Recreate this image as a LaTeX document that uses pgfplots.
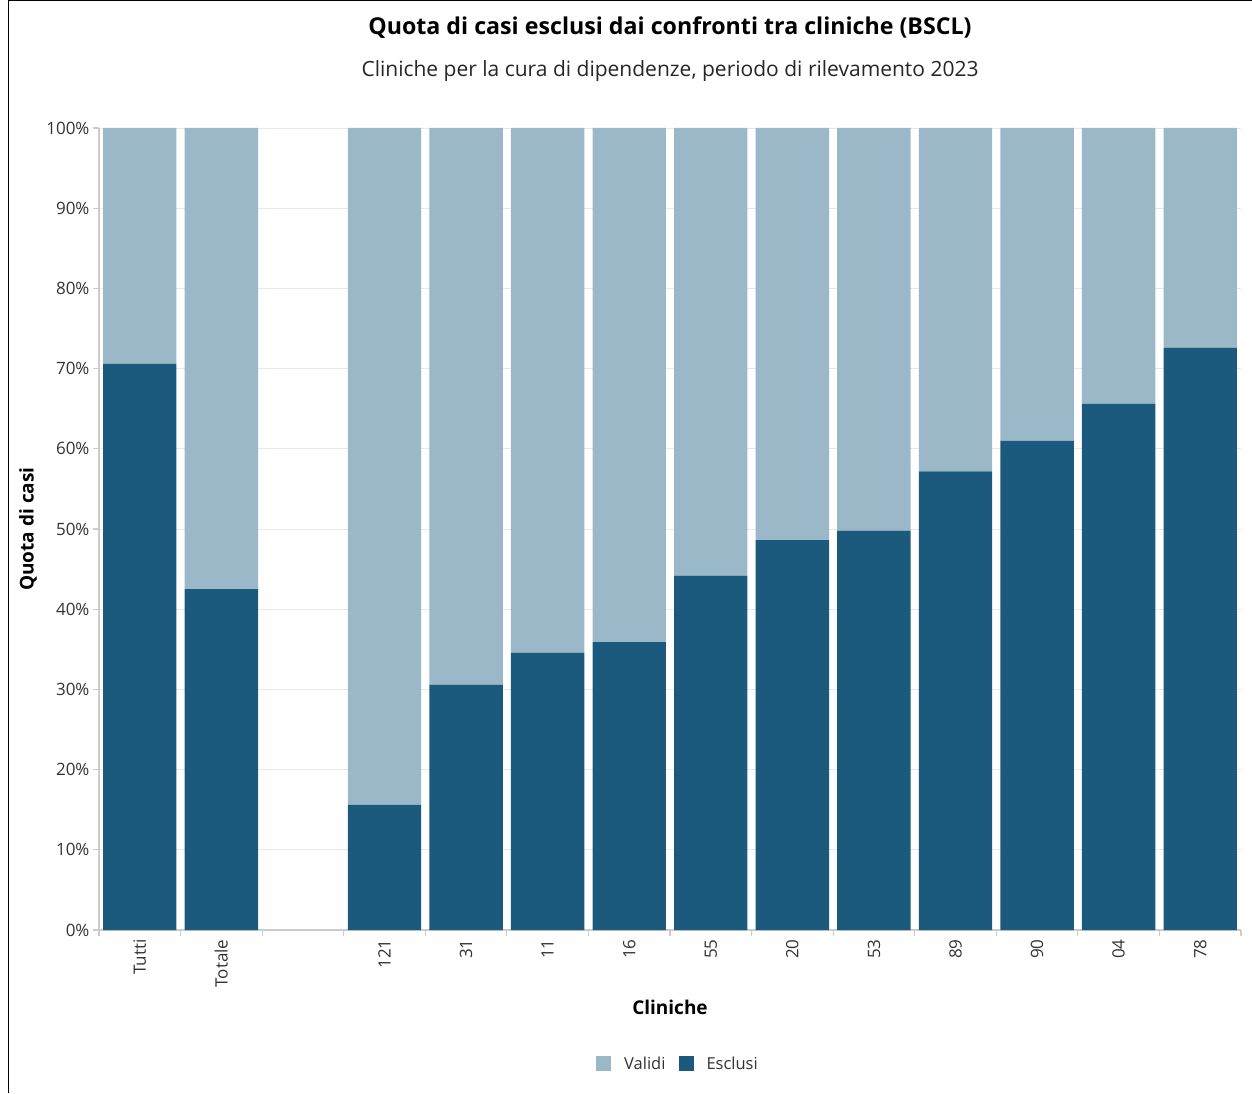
\documentclass[border=0pt]{standalone}
\usepackage{pgfplots}
\pgfplotsset{compat=1.18}
\usepackage{fontspec}
\setmainfont{Open Sans}
\definecolor{validi}{RGB}{155,184,201}
\definecolor{esclusi}{RGB}{27,90,125}
\definecolor{axgray}{RGB}{204,204,204}
\definecolor{gridgray}{RGB}{232,232,232}
\definecolor{txt}{RGB}{51,51,51}
\begin{document}
\begin{tikzpicture}[x=1pt,y=1pt]
\useasboundingbox (0,0) rectangle (1252,1093);
\draw[black, line width=1.3pt] (8.5,0) -- (8.5,1092.3) -- (1252,1092.3);
\node[font=\fontsize{23.2}{27}\selectfont\bfseries, text=black] at (670,1065) {Quota di casi esclusi dai confronti tra cliniche (BSCL)};
\node[font=\fontsize{21}{25}\selectfont, text=black!85] at (670,1022) {Cliniche per la cura di dipendenze, periodo di rilevamento 2023};
\begin{axis}[
  at={(99pt,163pt)}, anchor=south west,
  width=1142pt, height=802pt, scale only axis,
  xmin=-0.5, xmax=13.5, ymin=0, ymax=100,
  ybar stacked, bar width=0.9,
  axis x line*=bottom, axis y line*=left,
  axis line style={axgray, line width=1.3pt},
  ymajorgrids, grid style={gridgray, line width=0.8pt},
  ytick={0,10,...,100},
  yticklabel={\pgfmathprintnumber[assume math mode=true]{\tick}\%},
  xtick={-0.5,0.5,...,13.5},
  x tick label as interval,
  xticklabels={Tutti,Totale,{},121,31,11,16,55,20,53,89,90,{04},78},
  x tick label style={rotate=90, anchor=east, yshift=0pt},
  tick label style={font=\fontsize{17}{19}\selectfont, text=txt},
  tick align=outside, major tick length=6pt,
  tick style={axgray, line width=1.2pt},
  xlabel={Cliniche}, ylabel={Quota di casi},
  label style={font=\fontsize{19}{23}\selectfont\bfseries, text=black},
  xlabel style={at={(axis description cs:0.5,-0.096)}, anchor=center},
  ylabel style={at={(axis description cs:-0.0622,0.5)}, anchor=center},
  legend columns=2,
  legend style={draw=none, at={(axis description cs:0.507,-0.167)}, anchor=center,
    font=\fontsize{16.5}{18}\selectfont, text=txt,
    /tikz/every even column/.append style={column sep=11pt},
    /tikz/every odd column/.append style={column sep=11pt}},
  legend image code/.code={\fill[#1] (0pt,-7pt) rectangle (15pt,8pt);},
]
\addplot[fill=esclusi, draw=none, forget plot] coordinates {
  (0,70.6) (1,42.5) (3,15.6) (4,30.6) (5,34.6) (6,35.9) (7,44.2)
  (8,48.6) (9,49.8) (10,57.2) (11,61.0) (12,65.6) (13,72.6)};
\addplot[fill=validi, draw=none, forget plot] coordinates {
  (0,29.4) (1,57.5) (3,84.4) (4,69.4) (5,65.4) (6,64.1) (7,55.8)
  (8,51.4) (9,50.2) (10,42.8) (11,39.0) (12,34.4) (13,27.4)};
\addlegendimage{fill=validi, draw=none}
\addlegendentry{Validi}
\addlegendimage{fill=esclusi, draw=none}
\addlegendentry{Esclusi}
\end{axis}
\end{tikzpicture}
\end{document}
